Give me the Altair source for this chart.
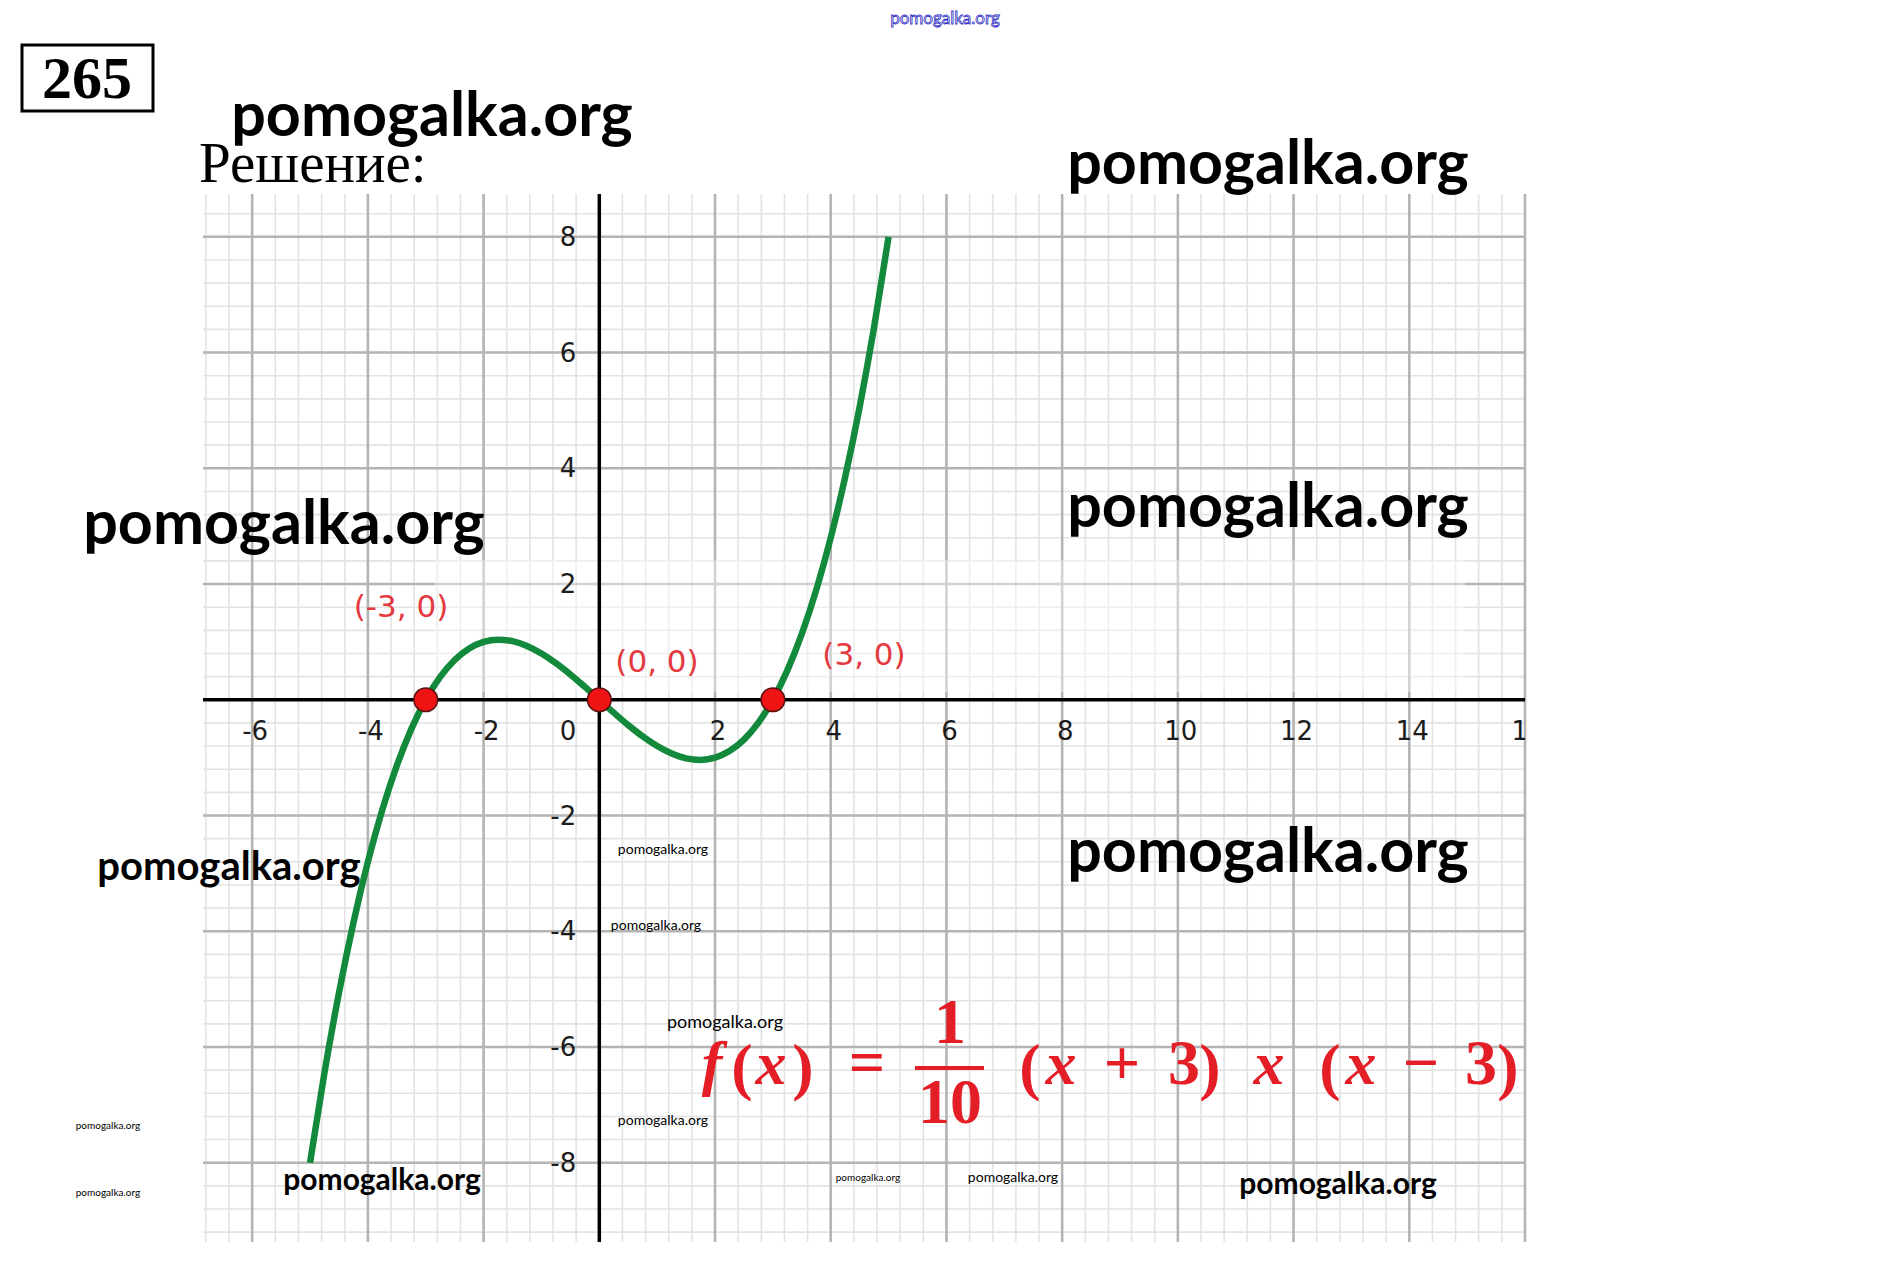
import altair as alt
import pandas as pd

# ---------------- data ----------------
curve_x = [-5.0, -4.75, -4.5, -4.25, -4.0, -3.75, -3.5, -3.25, -3.0, -2.75, -2.5,
           -2.25, -2.0, -1.75, -1.5, -1.25, -1.0, -0.75, -0.5, -0.25, 0.0,
           0.25, 0.5, 0.75, 1.0, 1.25, 1.5, 1.75, 2.0, 2.25, 2.5, 2.75, 3.0,
           3.25, 3.5, 3.75, 4.0, 4.25, 4.5, 4.75, 5.0]
curve_y = [-8.0, -6.442, -5.063, -3.852, -2.8, -1.898, -1.138, -0.508, 0.0, 0.395, 0.688,
           0.886, 1.0, 1.039, 1.013, 0.930, 0.8, 0.633, 0.438, 0.223, 0.0,
           -0.223, -0.438, -0.633, -0.8, -0.930, -1.013, -1.039, -1.0, -0.886, -0.688, -0.395, 0.0,
           0.508, 1.138, 1.898, 2.8, 3.852, 5.063, 6.442, 8.0]
root_x = [-3, 0, 3]
root_y = [0, 0, 0]
root_labels = ["(-3, 0)", "(0, 0)", "(3, 0)"]
x_ticks = [-6, -4, -2, 2, 4, 6, 8, 10, 12, 14, 16]
y_ticks = [-8, -6, -4, -2, 2, 4, 6, 8]
x_major = [-6, -4, -2, 0, 2, 4, 6, 8, 10, 12, 14, 16]
y_major = [-8, -6, -4, -2, 0, 2, 4, 6, 8]
x_minor = [round(-6.8 + 0.4 * i, 1) for i in range(58)]
y_minor = [round(-9.2 + 0.4 * i, 1) for i in range(45)]

# ---------------- geometry ----------------
X_DOMAIN = [-6.85, 16.0]
Y_DOMAIN = [-9.37, 8.74]
W, H = 1322, 1048
PL, PT, PR, PB = 195, 186, 300, 5
OX, OY = 8 + PL, 8 + PT

xs = alt.Scale(domain=X_DOMAIN, nice=False, zero=False)
ys = alt.Scale(domain=Y_DOMAIN, nice=False, zero=False)


def to_data(px, py):
    dx = X_DOMAIN[0] + (px - OX) * (X_DOMAIN[1] - X_DOMAIN[0]) / W
    dy = Y_DOMAIN[1] - (py - OY) * (Y_DOMAIN[1] - Y_DOMAIN[0]) / H
    return dx, dy


def table(rows):
    out = []
    for r in rows:
        t, px, py = r[0], r[1], r[2]
        x, y = to_data(px, py)
        d = {"t": t, "x": x, "y": y}
        if len(r) > 3:
            d["fs"] = r[3]
        out.append(d)
    return pd.DataFrame(out)


X = lambda f="x": alt.X(f"{f}:Q", scale=xs, axis=None)
Y = lambda f="y": alt.Y(f"{f}:Q", scale=ys, axis=None)

layers = []

# grid
layers.append(alt.Chart(pd.DataFrame({"x": x_minor})).mark_rule(color="#e3e3e3", strokeWidth=1.6).encode(x=X()))
layers.append(alt.Chart(pd.DataFrame({"y": y_minor})).mark_rule(color="#e3e3e3", strokeWidth=1.6).encode(y=Y()))
layers.append(alt.Chart(pd.DataFrame({"x": x_major})).mark_rule(color="#b4b4b4", strokeWidth=2.6).encode(x=X()))
layers.append(alt.Chart(pd.DataFrame({"y": y_major})).mark_rule(color="#b4b4b4", strokeWidth=2.6).encode(y=Y()))

# washed-out band (erased watermark)
wx1, wy1 = to_data(435, 560)
wx2, wy2 = to_data(1465, 692)
layers.append(alt.Chart(pd.DataFrame({"x": [wx1], "x2": [wx2], "y": [wy1], "y2": [wy2]}))
              .mark_rect(color="white", opacity=0.4)
              .encode(x=X(), x2="x2:Q", y=Y(), y2="y2:Q"))

# axes lines
layers.append(alt.Chart(pd.DataFrame({"y": [0]})).mark_rule(color="black", strokeWidth=3.5).encode(y=Y()))
layers.append(alt.Chart(pd.DataFrame({"x": [0]})).mark_rule(color="black", strokeWidth=3.5).encode(x=X()))

# curve
layers.append(alt.Chart(pd.DataFrame({"x": curve_x, "y": curve_y}))
              .mark_line(color="#13893b", strokeWidth=6.5, interpolate="monotone")
              .encode(x=X(), y=Y()))

# roots
layers.append(alt.Chart(pd.DataFrame({"x": root_x, "y": root_y}))
              .mark_point(filled=True, shape="circle", size=560, color="#ee1414", stroke="#5a1010",
                          strokeWidth=1.5, opacity=1)
              .encode(x=X(), y=Y()))

# tick labels
tick_font = "DejaVu Sans"
layers.append(alt.Chart(pd.DataFrame({"x": x_ticks, "y": [0] * len(x_ticks), "t": [str(v) for v in x_ticks]}))
              .mark_text(font=tick_font, fontSize=26, color="#1c1c1c", dx=3, dy=32, baseline="middle",
                         align="center", clip=True)
              .encode(x=X(), y=Y(), text="t:N"))
layers.append(alt.Chart(pd.DataFrame({"x": [0] * len(y_ticks), "y": y_ticks, "t": [str(v) for v in y_ticks]}))
              .mark_text(font=tick_font, fontSize=26, color="#1c1c1c", dx=-23, dy=1, baseline="middle",
                         align="right")
              .encode(x=X(), y=Y(), text="t:N"))
layers.append(alt.Chart(pd.DataFrame({"x": [0], "y": [0], "t": ["0"]}))
              .mark_text(font=tick_font, fontSize=26, color="#1c1c1c", dx=-23, dy=32, baseline="middle",
                         align="right")
              .encode(x=X(), y=Y(), text="t:N"))

# root labels
lab = table([(root_labels[0], 401, 608), (root_labels[1], 657, 663), (root_labels[2], 864, 656)])
layers.append(alt.Chart(lab).mark_text(font=tick_font, fontSize=31, color="#e4393f", baseline="middle",
                                       align="center")
              .encode(x=X(), y=Y(), text="t:N"))

# formula
MATH = "Liberation Serif"
RED = "#e41e26"
ital = table([("f", 712, 1084), ("x", 771, 1084), ("x", 1061, 1084), ("x", 1269, 1084), ("x", 1361, 1084)])
layers.append(alt.Chart(ital).mark_text(font=MATH, fontSize=62, fontStyle="italic", fontWeight="bold",
                                        color=RED, baseline="alphabetic", align="center")
              .encode(x=X(), y=Y(), text="t:N"))
upr = table([("(", 742, 1088), (")", 803, 1088), ("=", 867, 1084), ("1", 950, 1043), ("10", 950, 1123),
             ("(", 1030, 1088), ("+", 1122, 1084), ("3", 1184, 1084), (")", 1210, 1088),
             ("(", 1330, 1088), ("\u2212", 1421, 1084), ("3", 1481, 1084), (")", 1508, 1088)])
layers.append(alt.Chart(upr).mark_text(font=MATH, fontSize=64, fontWeight="bold",
                                       color=RED, baseline="alphabetic", align="center")
              .encode(x=X(), y=Y(), text="t:N"))
bx1, by1 = to_data(915, 1068)
bx2, _ = to_data(984, 1068)
layers.append(alt.Chart(pd.DataFrame({"x": [bx1], "x2": [bx2], "y": [by1]}))
              .mark_rule(color=RED, strokeWidth=4)
              .encode(x=X(), x2="x2:Q", y=Y()))

# problem number box and heading
rx1, ry1 = to_data(22, 45)
rx2, ry2 = to_data(153, 111)
layers.append(alt.Chart(pd.DataFrame({"x": [rx1], "x2": [rx2], "y": [ry1], "y2": [ry2]}))
              .mark_rect(fillOpacity=0, stroke="black", strokeWidth=3)
              .encode(x=X(), x2="x2:Q", y=Y(), y2="y2:Q"))
num = table([("265", 87, 98)])
layers.append(alt.Chart(num).mark_text(font="Liberation Serif", fontSize=60, fontWeight="bold",
                                       color="black", baseline="alphabetic", align="center")
              .encode(x=X(), y=Y(), text="t:N"))
head = table([("Решение:", 199, 182)])
layers.append(alt.Chart(head).mark_text(font="Liberation Serif", fontSize=57, color="black",
                                        baseline="alphabetic", align="left")
              .encode(x=X(), y=Y(), text="t:N"))

# watermarks
wm_bold = table([("pomogalka.org", 432, 118, 61), ("pomogalka.org", 1268, 166, 61),
                 ("pomogalka.org", 284, 526, 61), ("pomogalka.org", 1268, 509, 61),
                 ("pomogalka.org", 1268, 854, 61), ("pomogalka.org", 229, 868, 40),
                 ("pomogalka.org", 382, 1181, 30), ("pomogalka.org", 1338, 1185, 30)])
layers.append(alt.Chart(wm_bold).mark_text(font="Lato", fontWeight="bold", color="black",
                                           baseline="middle", align="center")
              .encode(x=X(), y=Y(), text="t:N", size=alt.Size("fs:Q", scale=None, legend=None)))
wm_small = table([("pomogalka.org", 663, 850, 14), ("pomogalka.org", 656, 926, 14),
                  ("pomogalka.org", 725, 1023, 18), ("pomogalka.org", 663, 1121, 14),
                  ("pomogalka.org", 1013, 1178, 14), ("pomogalka.org", 108, 1126, 10),
                  ("pomogalka.org", 108, 1193, 10), ("pomogalka.org", 868, 1178, 10)])
layers.append(alt.Chart(wm_small).mark_text(font="Lato", color="black", baseline="middle", align="center")
              .encode(x=X(), y=Y(), text="t:N", size=alt.Size("fs:Q", scale=None, legend=None)))
wm_top = table([("pomogalka.org", 945, 19)])
layers.append(alt.Chart(wm_top).mark_text(font="Lato", fontSize=17, fill="white", stroke="#2e2ec4",
                                          strokeWidth=0.8, baseline="middle", align="center")
              .encode(x=X(), y=Y(), text="t:N"))

chart = alt.layer(*layers).properties(
    width=W, height=H,
    autosize=alt.AutoSizeParams(type="none"),
    padding={"left": PL, "top": PT, "right": PR, "bottom": PB},
    background="white",
).configure_view(strokeWidth=0)

chart.save("out.html", embed_options={"renderer": "svg", "actions": False})
